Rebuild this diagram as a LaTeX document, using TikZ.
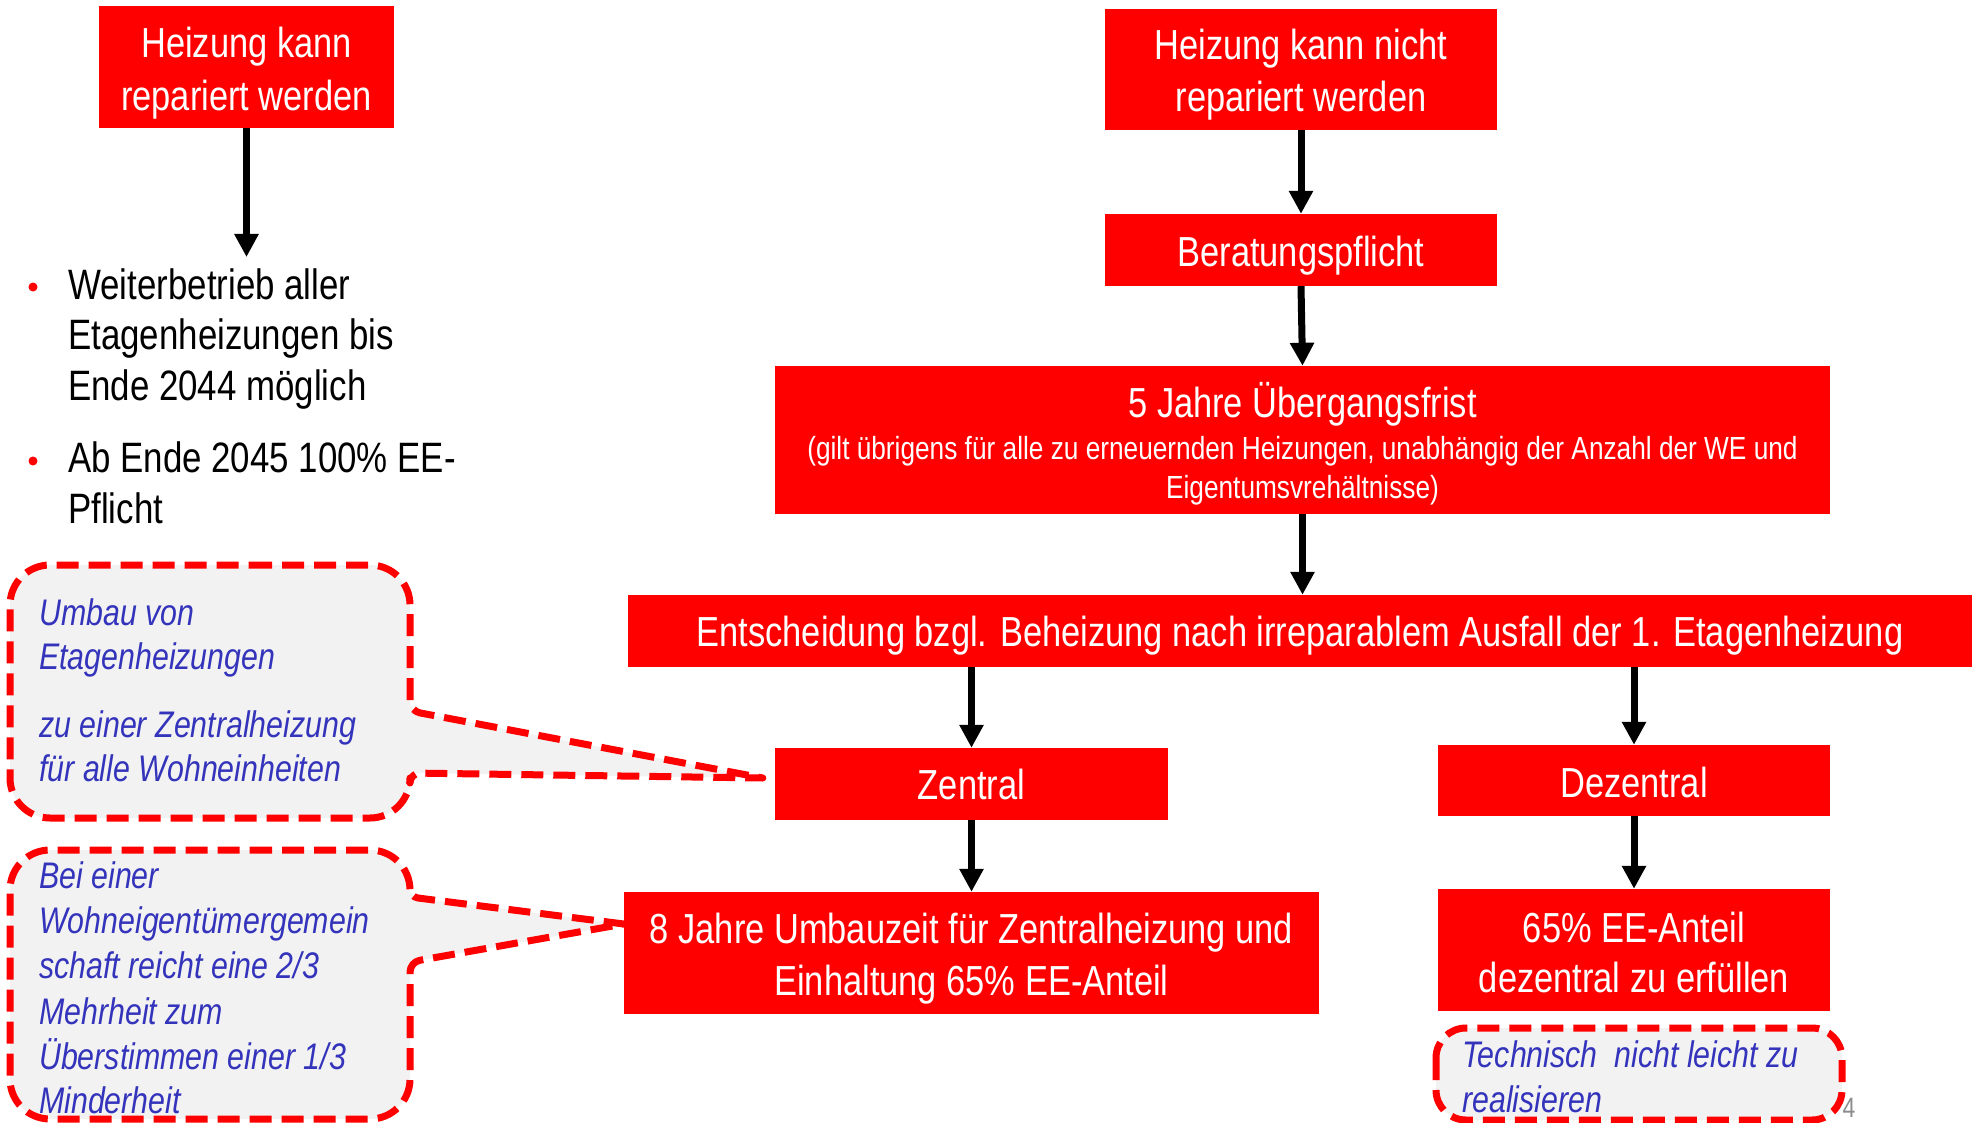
\documentclass[tikz,border=0pt]{standalone}
\usepackage{fontspec}
\setmainfont[FakeStretch=0.82]{Liberation Sans}
\usetikzlibrary{arrows.meta}
\definecolor{boxred}{RGB}{255,0,0}
\definecolor{calloutgray}{RGB}{242,242,242}
\definecolor{calloutblue}{RGB}{51,51,187}
\definecolor{pagegray}{RGB}{140,140,140}
\begin{document}
\begin{tikzpicture}[x=1pt,y=-1pt,
  redbox/.style={fill=boxred, inner sep=0pt},
  boxline/.style={text=white, font=\fontsize{42}{52}\selectfont, inner sep=0pt, anchor=base},
  boxsub/.style={text=white, font=\fontsize{32}{39}\selectfont, inner sep=0pt, anchor=base},
  arr/.style={line width=7pt, -{Triangle[width=23pt,length=23pt]}},
  callout/.style={draw=boxred, fill=calloutgray, line width=7pt,
    dash pattern=on 22pt off 10pt},
  calltext/.style={text=calloutblue, font=\fontsize{37}{45}\selectfont\itshape,
    inner sep=0pt, anchor=base west},
  bullettext/.style={text=black, font=\fontsize{42.5}{50}\selectfont,
    inner sep=0pt, anchor=base west},
  bulletdot/.style={circle, fill=boxred, inner sep=0pt, minimum size=9pt}
]
\useasboundingbox[fill=white] (0,0) rectangle (1972,1123);

% page number
\node[text=pagegray, font=\fontsize{28}{30}\selectfont, inner sep=0pt] (pnum) at (1849,1108) {4};

% red boxes
\node[redbox, minimum width=295pt, minimum height=122pt] (b1) at (246.5,67) {};
\node[boxline] (b1l1) at (246.5,57.8) {Heizung kann};
\node[boxline] (b1l2) at (246.5,110.6) {repariert werden};

\node[redbox, minimum width=392pt, minimum height=121pt] (b2) at (1301,69.5) {};
\node[boxline] (b2l1) at (1301,60) {Heizung kann nicht};
\node[boxline] (b2l2) at (1301,112) {repariert werden};

\node[redbox, minimum width=392pt, minimum height=72pt] (b3) at (1301,250) {};
\node[boxline] (b3l1) at (1301,266.5) {Beratungspflicht};

\node[redbox, minimum width=1055pt, minimum height=148pt] (b4) at (1302.5,440) {};
\node[boxline] (b4l1) at (1302.5,417.5) {5 Jahre Übergangsfrist};
\node[boxsub] (b4l2) at (1302.5,459) {(gilt übrigens für alle zu erneuernden Heizungen, unabhängig der Anzahl der WE und};
\node[boxsub] (b4l3) at (1302.5,498) {Eigentumsvrehältnisse)};

\node[redbox, minimum width=1344pt, minimum height=72pt] (b5) at (1300,631) {};
\node[boxline] (b5l1) at (1300,646) {Entscheidung bzgl. Beheizung nach irreparablem Ausfall der 1. Etagenheizung};

\node[redbox, minimum width=393pt, minimum height=72pt] (zentral) at (971.5,784) {};
\node[boxline] (zl1) at (971.5,799) {Zentral};

\node[redbox, minimum width=392pt, minimum height=71pt] (dezentral) at (1634,780.5) {};
\node[boxline] (dzl1) at (1634,797) {Dezentral};

\node[redbox, minimum width=695pt, minimum height=122pt] (jahre8) at (971.5,953) {};
\node[boxline] (j8l1) at (971.5,943) {8 Jahre Umbauzeit für Zentralheizung und};
\node[boxline] (j8l2) at (971.5,995) {Einhaltung 65\% EE-Anteil};

\node[redbox, minimum width=392pt, minimum height=122pt] (ee65) at (1634,950) {};
\node[boxline] (eel1) at (1634,942) {65\% EE-Anteil};
\node[boxline] (eel2) at (1634,992) {dezentral zu erfüllen};

% arrows
\coordinate (bulltop) at (246.5,257);
\draw[arr] (b1.south) -- (bulltop);
\draw[arr] (b2.south) -- (b3.north);
\draw[arr] (b3.south) -- (b4.north);
\draw[arr] (b4.south) -- (b4.south |- b5.north);
\draw[arr] (zentral.north |- b5.south) -- (zentral.north);
\draw[arr] (dezentral.north |- b5.south) -- (dezentral.north);
\draw[arr] (zentral.south) -- (jahre8.north);
\draw[arr] (dezentral.south) -- (ee65.north);

% bullet list
\node[bulletdot] (dot1) at (33,287) {};
\node[bulletdot] (dot2) at (33,461) {};
\foreach \yy/\txt [count=\i] in {299/{Weiterbetrieb aller}, 349/{Etagenheizungen bis}, 400/{Ende 2044 möglich}, 472/{Ab Ende 2045 100\% EE-}, 523/{Pflicht}}
  \node[bullettext] (item\i) at (68,\yy) {\txt};

% callout 1
\coordinate (tip1) at ([xshift=-12pt,yshift=6pt]zentral.west);
\draw[callout, line join=round] (210,565) [rounded corners=40pt] -- (410,565)
  [rounded corners=10pt] -- (410,711) [sharp corners] -- (tip1)
  [rounded corners=10pt] -- (410,773) [rounded corners=40pt] -- (410,818)
  -- (10,818) -- (10,565) -- cycle;
\foreach \yy/\txt [count=\i] in {625/{Umbau von}, 669/{Etagenheizungen}, 737/{zu einer Zentralheizung}, 781/{für alle Wohneinheiten}}
  \node[calltext] (ca\i) at (39,\yy) {\txt};

% callout 2
\coordinate (tip2) at ([yshift=29pt]jahre8.west);
\draw[callout, line join=round] (210,850) [rounded corners=40pt] -- (410,850)
  [rounded corners=8pt] -- (410,897) [sharp corners] -- (tip2)
  [rounded corners=10pt] -- (410,962) [rounded corners=40pt] -- (410,1119)
  -- (10,1119) -- (10,850) -- cycle;
\foreach \yy/\txt [count=\i] in {888/{Bei einer}, 933/{Wohneigentümergemein}, 978/{schaft reicht eine 2/3}, 1024/{Mehrheit zum}, 1069/{Überstimmen einer 1/3}, 1113/{Minderheit}}
  \node[calltext] (cb\i) at (39,\yy) {\txt};

% callout 3
\draw[callout, rounded corners=30pt] (1436,1028) rectangle (1842,1120);
\node[calltext] (cc1) at (1462,1067) {Technisch~ nicht leicht zu};
\node[calltext] (cc2) at (1462,1112) {realisieren};
\end{tikzpicture}
\end{document}
